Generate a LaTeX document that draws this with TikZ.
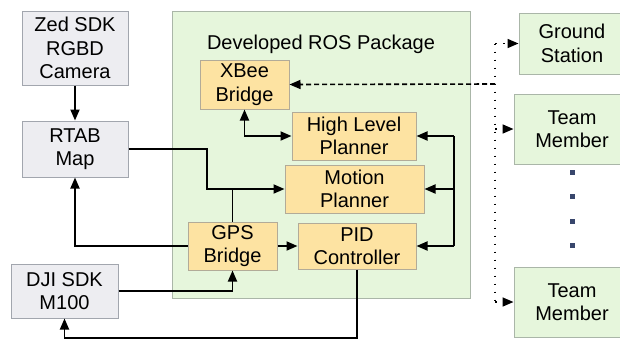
\documentclass[tikz,border=0pt]{standalone}
\usepackage{fontspec}
\setmainfont{Liberation Sans}
\usetikzlibrary{arrows.meta,calc}

\definecolor{extfill}{HTML}{EDEDF1}
\definecolor{extline}{HTML}{A2A6AE}
\definecolor{pkgfill}{HTML}{E6F6DC}
\definecolor{pkgline}{HTML}{AAB6A8}
\definecolor{modfill}{HTML}{FDE3A2}
\definecolor{modline}{HTML}{B2AB98}
\definecolor{dotcol}{HTML}{38466C}

\tikzset{
  boxbase/.style={rectangle, inner sep=0pt, align=center, line width=1pt,
    font=\fontsize{20}{23.5}\selectfont},
  extbox/.style={boxbase, draw=extline, fill=extfill},
  modbox/.style={boxbase, draw=modline, fill=modfill},
  peerbox/.style={boxbase, draw=pkgline, fill=pkgfill},
  tip/.style={-{Triangle[length=11pt,width=9pt]}},
  conn/.style={line width=1.8pt, tip},
  plainconn/.style={line width=1.8pt},
  radiolink/.style={line width=1.6pt, dash pattern=on 5pt off 3pt},
  peerlink/.style={line width=1.6pt, dash pattern=on 1.6pt off 6.4pt},
}

\begin{document}
\begin{tikzpicture}[x=1pt,y=-1pt]
\useasboundingbox (0,0) rectangle (620,341);
\fill[white] (0,0) rectangle (620,341);

% ROS package container
\node[draw=pkgline, fill=pkgfill, line width=1pt, minimum width=298pt, minimum height=287pt, inner sep=0pt] (pkg) at (321,154.5) {};
\node[font=\fontsize{20}{23.5}\selectfont] (pkgtitle) at (321,44) {Developed ROS Package};

% external components
\node[extbox, minimum width=106pt, minimum height=74pt] (zed) at (75,48) {Zed SDK\\RGBD\\Camera};
\node[extbox, minimum width=106pt, minimum height=56pt] (rtab) at (75,149) {RTAB\\Map};
\node[extbox, minimum width=107pt, minimum height=54pt] (dji) at (64.5,291) {DJI SDK\\M100};

% package modules
\node[modbox, minimum width=89pt, minimum height=49pt] (xbee) at (244.5,84.5) {XBee\\Bridge};
\node[modbox, minimum width=124pt, minimum height=48pt] (hlp) at (354,136) {High Level\\Planner};
\node[modbox, minimum width=139pt, minimum height=48pt] (motion) at (354.5,189) {Motion\\Planner};
\node[modbox, minimum width=89pt, minimum height=48pt] (gps) at (232.5,246) {GPS\\Bridge};
\node[modbox, minimum width=118pt, minimum height=46pt] (pid) at (357,246) {PID\\Controller};

% ellipsis between the team members (last dot tucked under the lower box)
\foreach \yy [count=\k] in {172,196.5,221,245,269}
  \node[fill=dotcol, minimum size=5pt, inner sep=0pt] (dot\k) at (572,\yy) {};

% peers reached over the radio link
\node[peerbox, minimum width=106pt, minimum height=61pt] (ground) at (572,43.5) {Ground\\Station};
\node[peerbox, minimum width=116pt, minimum height=70pt] (team1) at (572,129) {Team\\Member};
\node[peerbox, minimum width=116pt, minimum height=70pt] (team2) at (572,302) {Team\\Member};

% routing points
\coordinate (bendA) at (207,189);
\coordinate (low) at (0,338);
\coordinate (bus) at (454,136);
\coordinate (radio) at (495,84);

% data flow
\draw[conn] (zed) -- (rtab);
\draw[conn] (rtab.east) -| (bendA) -- (motion.west);
\draw[plainconn] (gps.north) -- (gps.north |- bendA);
\draw[conn] (gps.west) -| (rtab.south);
\draw[conn] (gps.east) -- (pid.west);
\draw[conn] (dji.east) -| (gps.south);
\draw[conn] (pid.south) -- (pid.south |- low) -| (dji.south);
\draw[line width=1.8pt, {Triangle[length=11pt,width=9pt]}-{Triangle[length=11pt,width=9pt]}] (xbee.south) |- (hlp.west);

% command bus on the right of the planners
\draw[conn] (bus) -- (hlp.east);
\draw[plainconn] (bus) -- (bus |- pid.east);
\draw[conn] (bus |- motion.east) -- (motion.east);
\draw[conn] (bus |- pid.east) -- (pid.east);

% radio link
\draw[radiolink, tip] (radio) -- (xbee.east);
\draw[peerlink] (radio |- ground.west) -- (radio |- team2.west);
\draw[peerlink, tip] (radio |- ground.west) -- (ground.west);
\draw[peerlink, tip] (radio |- team1.west) -- (team1.west);
\draw[peerlink, tip] (radio |- team2.west) -- (team2.west);
\end{tikzpicture}
\end{document}
